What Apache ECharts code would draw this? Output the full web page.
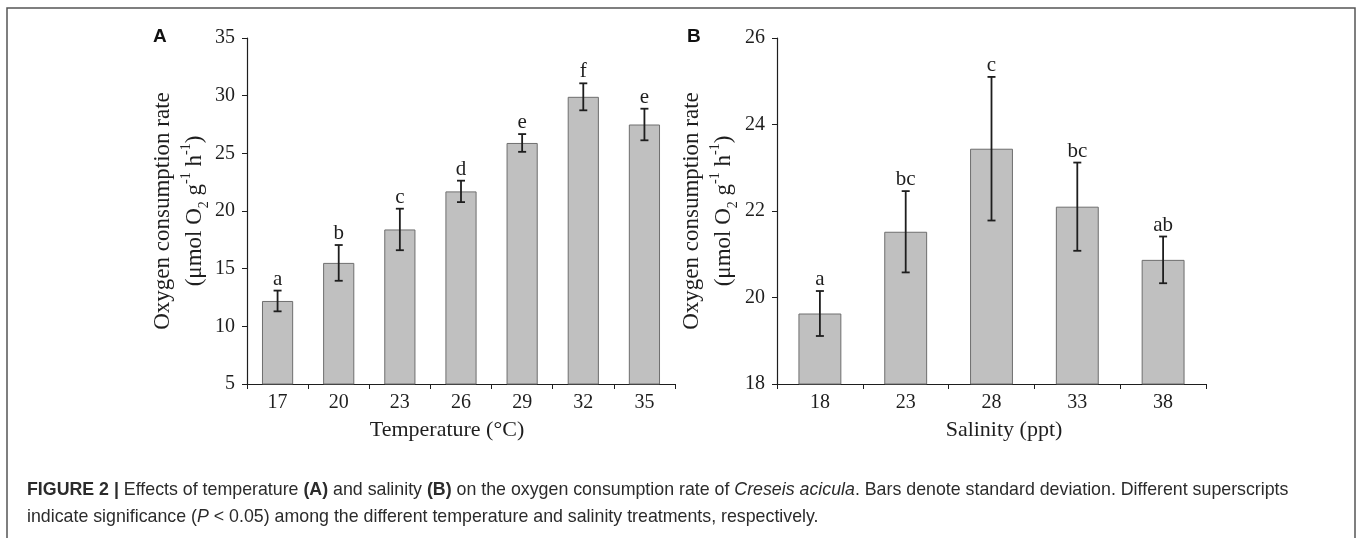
<!DOCTYPE html>
<html>
<head>
<meta charset="utf-8">
<script src="https://cdn.jsdelivr.net/npm/echarts@6/dist/echarts.min.js"></script>
<style>
  html, body { margin: 0; padding: 0; background: #fff; }
  #chart { width: 1358px; height: 538px; }
</style>
</head>
<body>
<div id="chart"></div>
<script>
// panel A: temperature
var tempCats = ["17", "20", "23", "26", "29", "32", "35"];
var tempMean = [12.2, 15.5, 18.4, 21.7, 25.9, 29.9, 27.5];
var tempSD = [0.9, 1.55, 1.8, 0.93, 0.77, 1.17, 1.37];
var tempLetters = ["a", "b", "c", "d", "e", "f", "e"];
var tempTicks = [5, 35, 5]; // min, max, interval

// panel B: salinity
var salCats = ["18", "23", "28", "33", "38"];
var salMean = [19.63, 21.52, 23.44, 22.1, 20.87];
var salSD = [0.52, 0.94, 1.66, 1.02, 0.54];
var salLetters = ["a", "bc", "c", "bc", "ab"];
var salTicks = [18, 26, 2];

var serif = "'Liberation Serif', 'DejaVu Serif', serif";
var sans = "'Liberation Sans', Arial, sans-serif";
var ink = "#1e1e1e";

var yTitle =
  "{t|Oxygen consumption rate}\n{t|(\u03bcmol O}{sub|2}{t| g}{sup|-1}{t| h}{sup|-1}{t|)}";
var yTitleRich = {
  t: { fontFamily: serif, fontSize: 23, lineHeight: 32, color: ink },
  sup: { fontFamily: serif, fontSize: 14, lineHeight: 24, verticalAlign: "top", color: ink },
  sub: { fontFamily: serif, fontSize: 14, lineHeight: 20, verticalAlign: "bottom", color: ink }
};

function xAxisFor(cats, name, gridIndex, namePad) {
  return {
    type: "category",
    gridIndex: gridIndex,
    data: cats,
    name: name,
    nameLocation: "middle",
    nameGap: 35,
    nameTextStyle: { fontFamily: serif, fontSize: 22, color: ink, padding: namePad },
    axisLine: { lineStyle: { color: ink, width: 1.2 } },
    axisTick: { show: true, inside: false, length: 5, alignWithLabel: false, lineStyle: { color: ink } },
    axisLabel: { fontFamily: serif, fontSize: 20, color: ink, margin: 9 },
    splitLine: { show: false }
  };
}

function yAxisFor(ticks, gridIndex, gap) {
  return {
    type: "value",
    gridIndex: gridIndex,
    min: ticks[0],
    max: ticks[1],
    interval: ticks[2],
    name: yTitle,
    nameLocation: "middle",
    nameRotate: 90,
    nameGap: gap,
    nameTextStyle: { align: "center", rich: yTitleRich },
    axisLine: { show: true, lineStyle: { color: ink, width: 1.2 } },
    axisTick: { show: true, inside: false, length: 5, lineStyle: { color: ink } },
    axisLabel: { fontFamily: serif, fontSize: 20, color: ink, margin: 12 },
    splitLine: { show: false }
  };
}

function barSeries(values, axisIndex, width) {
  return {
    type: "bar",
    xAxisIndex: axisIndex,
    yAxisIndex: axisIndex,
    data: values,
    barWidth: width,
    silent: true,
    itemStyle: { color: "#c0c0c0", borderColor: "#6e6e6e", borderWidth: 1 }
  };
}

// error bar + significance letter drawn through the axis scales
function errorSeries(means, sds, letters, axisIndex) {
  var data = means.map(function (m, i) {
    return [i, m - sds[i], m + sds[i], letters[i]];
  });
  return {
    type: "custom",
    xAxisIndex: axisIndex,
    yAxisIndex: axisIndex,
    silent: true,
    z: 5,
    data: data,
    renderItem: function (params, api) {
      var i = api.value(0);
      var lo = api.coord([i, api.value(1)]);
      var hi = api.coord([i, api.value(2)]);
      var cap = 4;
      var style = { stroke: ink, lineWidth: 1.8 };
      return {
        type: "group",
        children: [
          { type: "line", shape: { x1: hi[0], y1: hi[1], x2: lo[0], y2: lo[1] }, style: style },
          { type: "line", shape: { x1: hi[0] - cap, y1: hi[1], x2: hi[0] + cap, y2: hi[1] }, style: style },
          { type: "line", shape: { x1: lo[0] - cap, y1: lo[1], x2: lo[0] + cap, y2: lo[1] }, style: style },
          {
            type: "text",
            x: hi[0],
            y: hi[1] - 1,
            style: {
              text: data[params.dataIndex][3],
              fontFamily: serif,
              fontSize: 21,
              fill: ink,
              align: "center",
              verticalAlign: "bottom"
            }
          }
        ]
      };
    }
  };
}

var chart = echarts.init(document.getElementById("chart"), null, { renderer: "canvas" });

var capSize = 17.8;
chart.setOption({
  backgroundColor: "#ffffff",
  animation: false,
  grid: [
    { left: 247, right: 683, top: 38, bottom: 154 },
    { left: 777, right: 152, top: 38, bottom: 154 }
  ],
  xAxis: [
    xAxisFor(tempCats, "Temperature (\u00b0C)", 0, [0, 28, 0, 0]),
    xAxisFor(salCats, "Salinity (ppt)", 1, [0, 0, 0, 25])
  ],
  yAxis: [yAxisFor(tempTicks, 0, 33), yAxisFor(salTicks, 1, 37)],
  series: [
    barSeries(tempMean, 0, "51%"),
    errorSeries(tempMean, tempSD, tempLetters, 0),
    barSeries(salMean, 1, "50%"),
    errorSeries(salMean, salSD, salLetters, 1)
  ],
  graphic: [
    {
      type: "rect",
      shape: { x: 7, y: 8, width: 1348, height: 545 },
      style: { fill: null, stroke: "#555", lineWidth: 1.5 },
      silent: true
    },
    {
      type: "text",
      x: 153,
      y: 27,
      style: { text: "A", fontFamily: sans, fontWeight: "bold", fontSize: 19, fill: "#111" }
    },
    {
      type: "text",
      x: 687,
      y: 27,
      style: { text: "B", fontFamily: sans, fontWeight: "bold", fontSize: 19, fill: "#111" }
    },
    {
      type: "text",
      x: 27,
      y: 477,
      style: {
        text:
          "{b|FIGURE 2 |} Effects of temperature {b|(A)} and salinity {b|(B)} on the oxygen consumption rate of {i|Creseis acicula}. Bars denote standard deviation. Different superscripts\n" +
          "indicate significance ({i|P} < 0.05) among the different temperature and salinity treatments, respectively.",
        fontFamily: sans,
        fontSize: capSize,
        lineHeight: 27,
        fill: "#2b2b2b",
        rich: {
          b: { fontFamily: sans, fontSize: capSize, fontWeight: "bold", lineHeight: 27, color: "#2b2b2b" },
          i: { fontFamily: sans, fontSize: capSize, fontStyle: "italic", lineHeight: 27, color: "#2b2b2b" }
        }
      }
    }
  ]
});
</script>
</body>
</html>
